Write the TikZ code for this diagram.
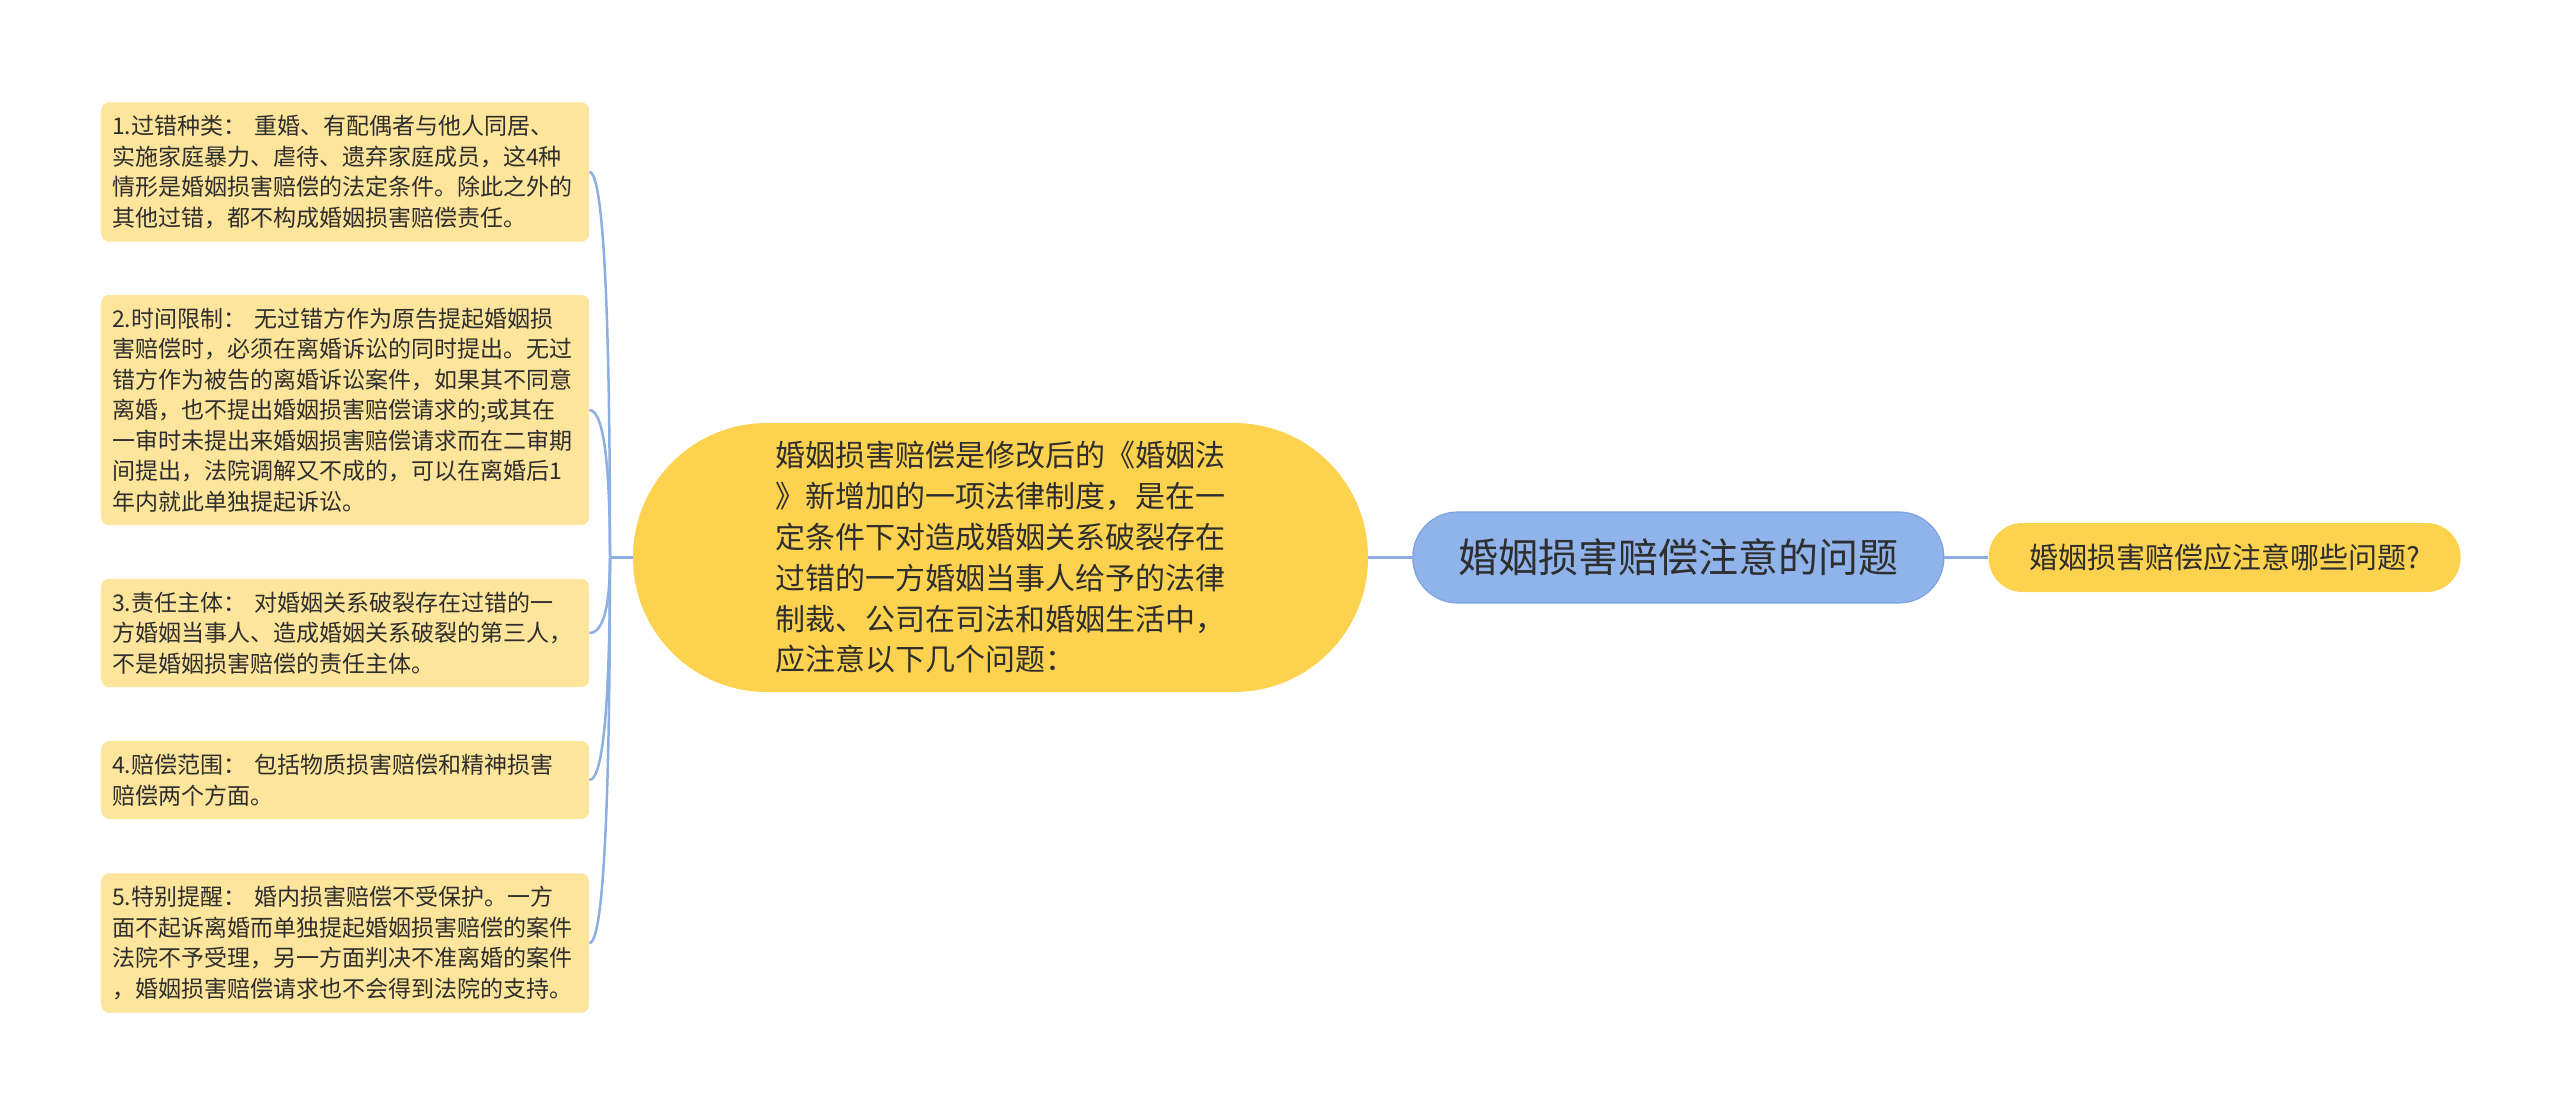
\documentclass[tikz,border=0pt]{standalone}
\usepackage{fontspec}
\setmainfont{Noto Sans CJK SC}
\usetikzlibrary{positioning}
\definecolor{leafyellow}{HTML}{FDE59B}
\definecolor{coreyellow}{HTML}{FDD24E}
\definecolor{topicblue}{HTML}{8FB3EA}
\definecolor{topicedge}{HTML}{7EA2DC}
\definecolor{linkblue}{HTML}{8DAEE0}
\definecolor{inkgray}{HTML}{2E2E2E}
\tikzstyle{base} = [rectangle, text=inkgray, inner xsep=11pt]
\tikzstyle{leaf} = [base, rounded corners=8pt, fill=leafyellow, anchor=west, text width=466pt, align=left, inner ysep=13pt, font=\fontsize{23}{30.5}\selectfont]
\tikzstyle{core} = [base, rounded corners=134pt, fill=coreyellow, minimum width=735pt, minimum height=269pt, align=left, font=\fontsize{30}{40.8}\selectfont]
\tikzstyle{topic} = [base, rounded corners=45pt, fill=topicblue, draw=topicedge, line width=1.2pt, minimum width=531pt, minimum height=91pt, font=\fontsize{40}{48}\selectfont]
\tikzstyle{tag} = [base, rounded corners=34pt, fill=coreyellow, minimum width=472pt, minimum height=69pt, font=\fontsize{29}{35}\selectfont]
\tikzstyle{link} = [draw=linkblue, line width=2.5pt]

\begin{document}
\begin{tikzpicture}[x=1pt, y=-1pt]
  \useasboundingbox (0,0) rectangle (2560,1115);
  \node (core)  [core] at (1000.5,557.5) {婚姻损害赔偿是修改后的《婚姻法\\》新增加的一项法律制度，是在一\\定条件下对造成婚姻关系破裂存在\\过错的一方婚姻当事人给予的法律\\制裁、公司在司法和婚姻生活中，\\应注意以下几个问题：};
  \node (topic) [topic, right=44pt of core] {婚姻损害赔偿注意的问题};
  \node (tag)   [tag, right=44pt of topic] {婚姻损害赔偿应注意哪些问题?};

  \node (p1) [leaf] at (101,172) {1.过错种类：\ 重婚、有配偶者与他人同居、\\实施家庭暴力、虐待、遗弃家庭成员，这4种\\情形是婚姻损害赔偿的法定条件。除此之外的\\其他过错，都不构成婚姻损害赔偿责任。};
  \node (p2) [leaf] at (101,410) {2.时间限制：\ 无过错方作为原告提起婚姻损\\害赔偿时，必须在离婚诉讼的同时提出。无过\\错方作为被告的离婚诉讼案件，如果其不同意\\离婚，也不提出婚姻损害赔偿请求的;或其在\\一审时未提出来婚姻损害赔偿请求而在二审期\\间提出，法院调解又不成的，可以在离婚后1\\年内就此单独提起诉讼。};
  \node (p3) [leaf] at (101,633) {3.责任主体：\ 对婚姻关系破裂存在过错的一\\方婚姻当事人、造成婚姻关系破裂的第三人，\\不是婚姻损害赔偿的责任主体。};
  \node (p4) [leaf] at (101,780) {4.赔偿范围：\ 包括物质损害赔偿和精神损害\\赔偿两个方面。};
  \node (p5) [leaf] at (101,943) {5.特别提醒：\ 婚内损害赔偿不受保护。一方\\面不起诉离婚而单独提起婚姻损害赔偿的案件\\法院不予受理，另一方面判决不准离婚的案件\\，婚姻损害赔偿请求也不会得到法院的支持。};

  \coordinate (hub) at (610,557.5);
  \draw[link] (core.west) -- (hub);
  \draw[link] (core.east) -- (topic.west);
  \draw[link] (topic.east) -- (tag.west);
  \draw[link] (p1.east) .. controls (606,172) and (610,365) .. (hub);
  \draw[link] (p2.east) .. controls (606,410) and (610,484) .. (hub);
  \draw[link] (p3.east) .. controls (606,633) and (610,595) .. (hub);
  \draw[link] (p4.east) .. controls (606,780) and (610,669) .. (hub);
  \draw[link] (p5.east) .. controls (606,943) and (610,750) .. (hub);
\end{tikzpicture}
\end{document}
